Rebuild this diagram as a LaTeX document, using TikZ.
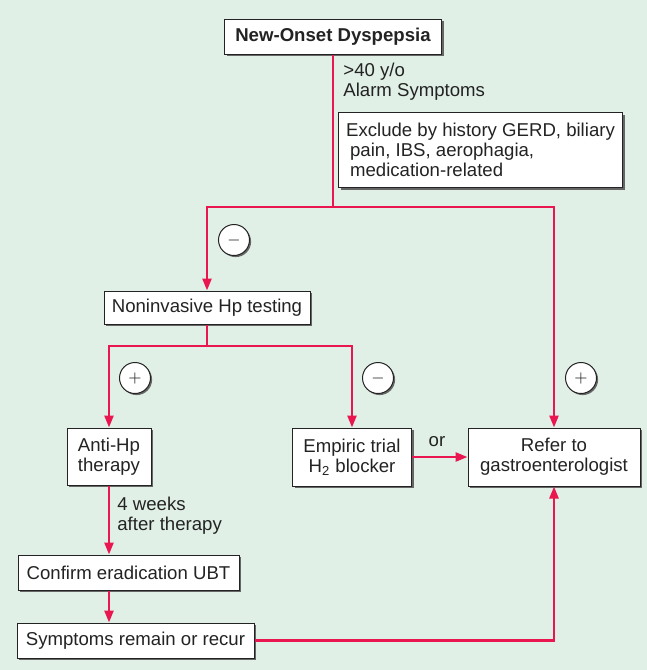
\documentclass[tikz,border=0pt]{standalone}
\usepackage{fontspec}
\setmainfont{Liberation Sans}
\usetikzlibrary{positioning,arrows.meta,shadows}
\definecolor{flowred}{RGB}{234,22,80}
\definecolor{panelgreen}{RGB}{224,240,230}
\definecolor{inkgray}{RGB}{35,35,35}

\begin{document}
\begin{tikzpicture}[x=0.5pt, y=-0.5pt,
  font=\fontsize{9.3}{10}\selectfont,
  box/.style={draw=inkgray, fill=white, line width=0.5pt, text=inkgray, align=center, inner sep=0pt,
    drop shadow={shadow xshift=1pt, shadow yshift=-1pt, fill=black!60, opacity=1}},
  sign/.style={draw=inkgray, fill=white, line width=0.5pt, circle, minimum size=15.5pt, inner sep=0pt,
    text=inkgray, font=\fontsize{8}{8}\selectfont,
    drop shadow={shadow xshift=0.8pt, shadow yshift=-0.8pt, fill=black!60, opacity=1}},
  flow/.style={flowred, line width=1.25pt},
  arr/.style={flow, -{Triangle[length=6pt, width=4.5pt]}},
  note/.style={text=inkgray, align=left, anchor=west, inner sep=0pt}]
\fill[panelgreen] (0,0) rectangle (647,670);
\useasboundingbox (0,0) rectangle (647,670);

% boxes
\node[box, font=\fontsize{9.3}{10}\selectfont\bfseries, minimum width=108.5pt, minimum height=17.5pt] (onset) at (333,36.5) {New-Onset Dyspepsia};
\node[box, align=left, anchor=north west, inner xsep=2.5pt, minimum width=142pt, minimum height=37.5pt] (exclude) at (338,112)
  {Exclude by history GERD, biliary\\\hspace*{2pt}pain, IBS, aerophagia,\\\hspace*{2pt}medication-related};
\node[box, minimum width=103pt, minimum height=16.5pt] (hptest) at (207,307.5) {Noninvasive Hp testing};
\node[box, minimum width=42pt, minimum height=28.5pt] (antihp) at (109,456.5) {Anti-Hp\\therapy};
\node[box, minimum width=59.5pt, minimum height=29pt] (empiric) at (352,457) {Empiric trial\\H\textsubscript{2} blocker};
\node[box, minimum width=86pt, minimum height=29pt] (refer) at (554,457) {Refer to\\gastroenterologist};
\node[box, minimum width=110.5pt, minimum height=17.5pt] (confirm) at (128.5,572.5) {Confirm eradication UBT};
\node[box, minimum width=118.5pt, minimum height=17.5pt] (symptoms) at (135.5,640.5) {Symptoms remain or recur};

% branch points
\coordinate (split1) at (333,207);
\coordinate (split2) at (207,346);

% connectors
\draw[arr] (onset.south) -- (split1) -| (hptest.north);
\draw[arr] (split1) -| (refer.north);
\draw[arr] (hptest.south) -- (split2) -| (antihp.north);
\draw[arr] (split2) -| (empiric.north);
\draw[arr] (empiric.east) -- (refer.west);
\draw[arr] (antihp.south) -- (antihp.south |- confirm.north);
\draw[arr] (confirm.south -| antihp) -- (symptoms.north -| antihp);
\draw[arr] (symptoms.east) -| (refer.south);

% labels
\node[note] (age) at (343,82) {>40 y/o\\Alarm Symptoms};
\node[note] (weeks) at (117,515.5) {4 weeks\\after therapy};
\node[text=inkgray] (or) at (437,442) {or};

% test results
\node[sign] (neg1) at (234,240) {$-$};
\node[sign] (pos1) at (135,378) {$+$};
\node[sign] (neg2) at (378,378) {$-$};
\node[sign] (pos2) at (581,378) {$+$};
\end{tikzpicture}
\end{document}
